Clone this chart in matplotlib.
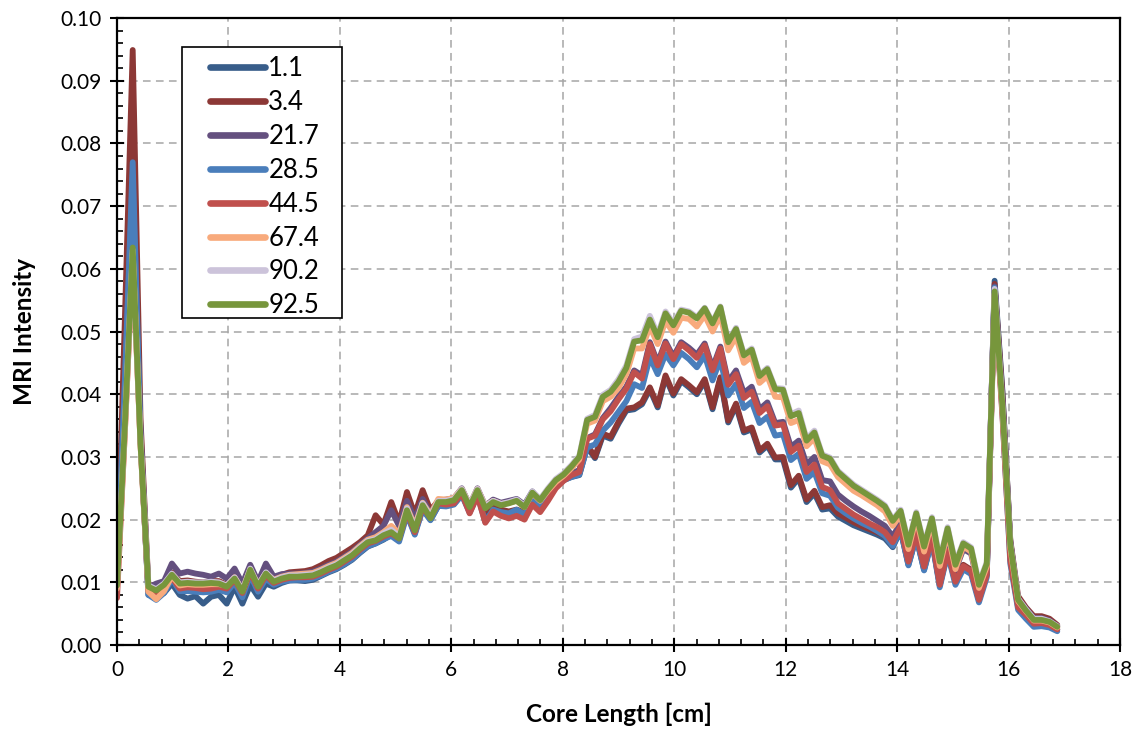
import numpy as np
import matplotlib.pyplot as plt
from matplotlib.patches import Rectangle
from matplotlib.ticker import MultipleLocator, FormatStrFormatter

# MRI intensity profiles along the core, values in units of 1e-3
n_points = 121
pixel_cm = 18 / 128  # slice spacing in cm

labels = ["1.1", "3.4", "21.7", "28.5", "44.5", "67.4", "90.2", "92.5"]
colors = ["#385D8A", "#8C3836", "#64507F", "#4A7EBB",
          "#C0504D", "#F8AA7C", "#CCC3DA", "#77963C"]

s_1_1 = [12.0, 45.0, 73.0, 33.0, 8.0, 7.7, 8.3, 9.8, 8.0, 7.4,
         7.8, 6.6, 7.7, 8.0, 6.6, 9.3, 6.6, 9.6, 7.7, 9.8,
         9.3, 9.9, 10.3, 10.3, 10.2, 10.4, 11.0, 11.6, 12.1, 12.8,
         13.6, 14.7, 15.7, 16.2, 16.8, 17.6, 16.8, 21.0, 17.8, 21.8,
         20.0, 22.2, 22.2, 22.5, 24.0, 21.4, 24.0, 20.8, 21.8, 21.3,
         21.1, 21.5, 21.0, 23.4, 22.3, 24.1, 25.6, 26.3, 26.8, 27.1,
         31.6, 29.8, 33.4, 32.9, 35.3, 37.4, 37.6, 38.4, 40.8, 37.9,
         42.7, 39.8, 42.1, 41.1, 40.0, 42.1, 37.6, 42.4, 35.5, 38.2,
         33.9, 34.4, 30.7, 31.8, 29.6, 29.6, 25.1, 26.6, 22.8, 24.2,
         21.6, 21.8, 20.5, 19.8, 19.1, 18.6, 18.1, 17.6, 17.0, 15.6,
         18.3, 12.8, 17.2, 12.0, 16.7, 9.5, 14.8, 10.0, 12.5, 11.7,
         7.2, 11.2, 58.1, 40.5, 16.5, 7.0, 5.2, 3.6, 3.7, 3.4, 2.5]

s_3_4 = [11.0, 52.0, 94.9, 36.0, 9.5, 9.6, 9.9, 11.6, 10.2, 10.3,
         10.1, 10.0, 10.2, 10.2, 9.6, 11.3, 9.0, 12.3, 9.6, 11.8,
         10.6, 11.2, 11.6, 11.7, 11.8, 12.1, 12.7, 13.4, 13.9, 14.7,
         15.5, 16.4, 17.5, 20.7, 19.2, 22.8, 19.5, 24.4, 20.8, 24.7,
         21.5, 23.0, 22.8, 23.0, 24.4, 21.8, 24.4, 21.4, 22.2, 21.6,
         21.3, 21.6, 21.2, 23.6, 22.5, 24.4, 25.8, 26.5, 27.0, 27.4,
         31.9, 30.0, 33.7, 33.2, 35.6, 37.7, 37.9, 38.7, 41.1, 38.2,
         43.0, 40.1, 42.4, 41.4, 40.3, 42.4, 37.9, 42.7, 35.8, 38.5,
         34.2, 34.7, 31.0, 32.1, 29.9, 30.0, 25.5, 27.0, 23.2, 24.6,
         22.0, 22.3, 21.0, 20.3, 19.6, 19.0, 18.5, 18.0, 17.4, 15.9,
         18.6, 13.1, 17.5, 12.3, 17.0, 9.8, 15.0, 10.3, 12.8, 12.0,
         7.5, 11.5, 57.6, 40.0, 16.8, 7.8, 6.0, 4.6, 4.6, 4.2, 3.2]

s_21_7 = [10.5, 42.0, 75.0, 34.0, 9.2, 9.8, 10.2, 13.0, 11.4, 11.7,
          11.4, 11.2, 10.9, 11.4, 10.6, 12.2, 9.8, 12.8, 10.1, 13.0,
          10.9, 11.3, 11.4, 11.4, 11.5, 11.7, 12.2, 12.8, 13.3, 14.1,
          14.9, 16.0, 17.0, 18.0, 19.0, 21.5, 19.0, 23.0, 20.0, 23.3,
          21.0, 23.0, 23.2, 23.4, 25.0, 22.3, 25.0, 22.2, 23.2, 22.7,
          23.0, 23.3, 22.4, 24.5, 23.0, 24.6, 25.8, 26.6, 27.4, 27.9,
          33.0, 33.6, 36.2, 37.8, 39.6, 41.2, 43.8, 43.0, 48.3, 45.0,
          48.4, 46.0, 48.3, 47.4, 46.3, 48.1, 44.2, 47.6, 42.0, 43.8,
          40.2, 41.2, 37.6, 38.7, 35.4, 35.6, 31.6, 32.6, 28.8, 30.0,
          26.3, 26.1, 24.0, 23.0, 22.1, 21.3, 20.6, 19.8, 19.0, 17.3,
          19.5, 14.2, 18.9, 13.8, 18.5, 11.6, 17.2, 11.9, 15.3, 14.6,
          9.0, 12.6, 57.2, 39.0, 16.5, 7.3, 5.8, 4.3, 4.3, 3.9, 3.0]

s_28_5 = [11.0, 42.0, 77.0, 33.0, 8.0, 7.2, 8.3, 10.6, 8.6, 8.6,
          8.5, 8.4, 8.5, 8.8, 8.4, 10.0, 7.6, 11.2, 8.5, 10.6,
          9.6, 10.1, 10.3, 10.4, 10.4, 10.6, 11.1, 11.7, 12.2, 12.9,
          13.7, 14.8, 15.8, 16.2, 16.9, 17.4, 16.5, 20.8, 17.6, 21.6,
          19.9, 22.2, 22.1, 22.4, 23.9, 21.1, 23.9, 19.6, 21.6, 21.2,
          21.0, 21.6, 20.8, 23.2, 22.0, 23.8, 25.4, 26.3, 26.8, 27.2,
          31.5, 32.0, 34.2, 35.5, 37.2, 38.9, 41.6, 41.0, 45.9, 43.2,
          46.4, 44.6, 46.6, 45.6, 44.3, 46.2, 42.2, 45.6, 39.8, 41.6,
          37.8, 38.8, 35.4, 36.4, 33.4, 33.6, 29.5, 30.5, 26.5, 27.6,
          24.2, 23.8, 21.9, 21.0, 20.2, 19.5, 18.9, 18.2, 17.4, 15.8,
          18.4, 12.7, 17.3, 11.9, 16.7, 9.2, 14.6, 9.6, 12.1, 11.3,
          6.8, 10.8, 57.0, 37.0, 13.0, 5.6, 4.2, 2.9, 3.0, 2.8, 2.2]

s_44_5 = [7.5, 34.0, 62.0, 32.0, 8.6, 8.0, 9.0, 10.8, 9.0, 9.2,
          9.1, 8.9, 9.0, 9.3, 9.0, 10.4, 8.3, 11.6, 9.0, 11.1,
          9.9, 10.4, 10.7, 10.8, 10.8, 10.9, 11.4, 12.0, 12.5, 13.3,
          14.1, 15.2, 16.2, 16.6, 17.3, 17.8, 17.0, 21.2, 18.0, 22.0,
          20.3, 22.6, 22.4, 22.6, 24.2, 21.0, 23.8, 19.5, 21.3, 20.6,
          20.2, 20.6, 20.0, 22.4, 21.2, 23.0, 25.0, 26.2, 27.1, 27.6,
          32.9, 33.4, 36.0, 37.3, 39.2, 40.9, 43.5, 42.5, 48.0, 44.6,
          48.1, 45.6, 48.0, 47.0, 45.8, 47.8, 43.8, 47.3, 41.5, 43.2,
          39.4, 40.4, 37.0, 38.1, 35.0, 35.2, 30.8, 31.8, 27.6, 28.8,
          25.2, 24.7, 22.6, 21.7, 20.8, 20.1, 19.4, 18.8, 18.0, 16.4,
          18.9, 13.3, 17.8, 12.5, 17.2, 9.6, 15.0, 10.1, 12.6, 11.8,
          7.2, 11.2, 55.8, 36.5, 13.5, 6.0, 4.8, 3.4, 3.5, 3.2, 2.5]

s_67_4 = [9.0, 34.0, 62.5, 32.0, 8.5, 7.3, 8.6, 11.0, 9.5, 9.7,
          9.6, 9.6, 9.7, 9.7, 9.5, 10.8, 8.8, 12.1, 9.6, 11.5,
          10.4, 10.9, 11.2, 11.3, 11.4, 11.5, 12.0, 12.6, 13.1, 13.9,
          14.7, 15.8, 16.8, 17.2, 18.0, 19.0, 17.8, 22.0, 19.0, 22.7,
          20.8, 23.3, 23.2, 23.5, 24.9, 22.4, 24.9, 22.2, 23.0, 22.5,
          22.7, 23.0, 22.0, 24.2, 23.0, 24.6, 26.0, 27.0, 28.2, 29.6,
          35.3, 35.8, 38.9, 39.6, 41.0, 43.2, 47.3, 47.3, 50.8, 48.0,
          51.7, 49.8, 52.2, 52.0, 50.8, 52.6, 50.0, 52.7, 47.0, 49.2,
          45.0, 46.0, 41.8, 42.9, 39.6, 39.5, 35.4, 35.9, 31.7, 33.0,
          29.3, 28.8, 26.8, 25.7, 24.6, 23.9, 23.1, 22.3, 21.3, 19.0,
          20.8, 15.3, 20.4, 14.9, 19.7, 12.6, 18.0, 12.1, 15.7, 14.9,
          9.1, 12.5, 56.0, 37.5, 15.5, 7.0, 5.4, 3.9, 3.9, 3.6, 2.8]

s_90_2 = [9.8, 35.0, 63.0, 32.5, 9.5, 8.9, 9.8, 11.4, 10.0, 10.1,
          10.0, 10.0, 10.1, 10.0, 9.5, 10.8, 8.7, 12.2, 9.5, 11.6,
          10.3, 10.8, 11.1, 11.1, 11.2, 11.3, 11.8, 12.4, 12.9, 13.7,
          14.5, 15.6, 16.6, 16.9, 17.8, 18.4, 17.3, 21.8, 18.6, 22.6,
          20.5, 23.0, 23.0, 23.3, 24.9, 22.3, 24.9, 22.1, 23.0, 22.5,
          22.8, 23.2, 22.2, 24.5, 23.3, 25.0, 26.5, 27.4, 28.7, 30.2,
          36.1, 36.7, 39.9, 40.7, 42.4, 44.6, 48.8, 49.2, 52.5, 49.5,
          53.2, 51.3, 53.5, 53.2, 52.3, 53.8, 51.5, 54.0, 48.5, 50.6,
          46.4, 47.3, 43.1, 44.2, 41.0, 40.9, 36.8, 37.4, 32.9, 34.2,
          30.4, 29.9, 27.8, 26.7, 25.6, 24.8, 24.0, 23.2, 22.3, 20.0,
          21.6, 16.3, 21.2, 16.0, 20.4, 13.6, 18.8, 13.1, 16.4, 15.6,
          9.9, 13.2, 56.8, 38.3, 16.2, 7.4, 5.7, 4.2, 4.2, 3.8, 3.0]

s_92_5 = [9.5, 35.0, 63.4, 32.0, 9.3, 8.7, 9.6, 11.2, 9.8, 9.9,
          9.8, 9.8, 9.9, 9.8, 9.3, 10.6, 8.5, 12.0, 9.3, 11.4,
          10.1, 10.6, 10.9, 10.9, 11.0, 11.1, 11.6, 12.2, 12.7, 13.5,
          14.3, 15.4, 16.4, 16.7, 17.5, 18.0, 17.0, 21.5, 18.3, 22.3,
          20.2, 22.8, 22.8, 23.1, 24.7, 22.0, 24.7, 21.8, 22.8, 22.3,
          22.6, 23.0, 22.0, 24.3, 23.1, 24.8, 26.3, 27.2, 28.5, 30.0,
          35.9, 36.4, 39.6, 40.4, 42.0, 44.2, 48.4, 48.6, 51.9, 49.1,
          52.9, 51.0, 53.3, 53.0, 52.1, 53.7, 51.3, 53.9, 48.3, 50.4,
          46.2, 47.1, 42.9, 44.0, 40.8, 40.7, 36.5, 37.0, 32.6, 33.9,
          30.2, 29.7, 27.6, 26.5, 25.4, 24.6, 23.8, 23.0, 22.1, 19.8,
          21.4, 16.0, 21.0, 15.7, 20.2, 13.3, 18.6, 12.8, 16.2, 15.4,
          9.6, 13.0, 56.4, 38.0, 16.0, 7.2, 5.5, 4.0, 4.0, 3.7, 2.9]

series = [s_1_1, s_3_4, s_21_7, s_28_5, s_44_5, s_67_4, s_90_2, s_92_5]

plt.rcParams['font.family'] = ['Lato', 'DejaVu Sans']

x = np.arange(n_points) * pixel_cm

fig = plt.figure(figsize=(11.44, 7.36), dpi=100)
ax = fig.add_axes([0.1023, 0.1236, 0.8767, 0.8519])

for vals, lab, col in zip(series, labels, colors):
    ax.plot(x, np.array(vals) / 1000, color=col, lw=4.2, label=lab,
            solid_joinstyle='round', solid_capstyle='round')

ax.set_xlim(0, 18)
ax.set_ylim(0, 0.10)
ax.xaxis.set_major_locator(MultipleLocator(2))
ax.xaxis.set_minor_locator(MultipleLocator(0.4))
ax.yaxis.set_major_locator(MultipleLocator(0.01))
ax.yaxis.set_minor_locator(MultipleLocator(0.002))
ax.yaxis.set_major_formatter(FormatStrFormatter('%.2f'))

ax.grid(True, which='major', color='#A6A6A6', lw=1.1, linestyle=(0, (5, 3.5)))
ax.set_axisbelow(True)

for sp in ax.spines.values():
    sp.set_linewidth(1.6)
    sp.set_color('black')

ax.tick_params(which='major', direction='inout', length=10, width=1.5,
               labelsize=15, pad=6)
ax.tick_params(which='minor', direction='in', length=4, width=1.2)

ax.set_xlabel('Core Length [cm]', fontsize=17.5, fontweight='bold', labelpad=16)
ax.set_ylabel('MRI Intensity', fontsize=17.5, fontweight='bold', labelpad=18)

# legend box drawn separately so the padding matches the Excel look
box = Rectangle((0.0648, 0.522), 0.1595, 0.432, transform=ax.transAxes,
                facecolor='white', edgecolor='black', lw=1.2, zorder=4)
ax.add_patch(box)
leg = ax.legend(loc='upper left', bbox_to_anchor=(0.0927, 0.939),
                borderaxespad=0, borderpad=0, fontsize=18.5,
                handlelength=2.15, handletextpad=0.12, labelspacing=0.345,
                frameon=False)
leg.set_zorder(5)
for line in leg.get_lines():
    line.set_linewidth(4.8)

fig.savefig('out.png', dpi=100)
